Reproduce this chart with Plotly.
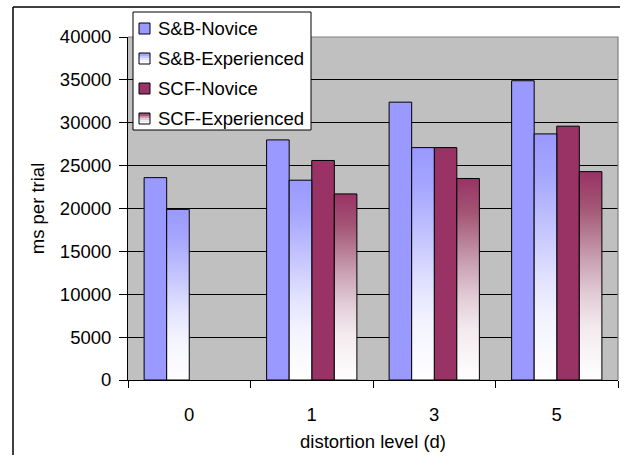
import plotly.graph_objects as go

# Distortion levels (categories) and mean response times in ms per trial
levels = ["0", "1", "3", "5"]
sb_novice = [23600, 28000, 32400, 34900]
sb_experienced = [19900, 23300, 27100, 28700]
scf_novice = [None, 25600, 27100, 29600]
scf_experienced = [None, 21700, 23500, 24300]

series_names = ["S&B-Novice", "S&B-Experienced", "SCF-Novice", "SCF-Experienced"]
y_ticks = [0, 5000, 10000, 15000, 20000, 25000, 30000, 35000, 40000]
y_tick_text = [str(v) for v in y_ticks]

SB_COLOR = "#9999ff"
SCF_COLOR = "#993366"
SB_FADE = [[0, "#ffffff"], [0.25, "#f3f3ff"], [0.41, "#e2e2ff"],
           [0.58, "#c9c9ff"], [0.83, "#a6a6ff"], [1, SB_COLOR]]
SCF_FADE = [[0, "#ffffff"], [0.25, "#f3eaee"], [0.41, "#e2ccd6"],
            [0.58, "#c9a0b2"], [0.83, "#a35574"], [1, SCF_COLOR]]

FONT = "Liberation Sans, Arial, sans-serif"
FS = 18.5

# plot-area geometry in pixels
W_FIG, H_FIG = 632, 468
M_L, M_R, M_T, M_B = 128, 14, 37, 88
PW = W_FIG - M_L - M_R
PH = H_FIG - M_T - M_B


def px(x):
    return (x - M_L) / PW


def py(y):
    return (H_FIG - M_B - y) / PH


# four bars per category, filling ~74% of each slot
group_frac = 0.737
bar_w = group_frac / 4
offsets = [-group_frac / 2 + k * bar_w for k in range(4)]

fig = go.Figure()

# solid bars
for k, (vals, color) in enumerate([(sb_novice, SB_COLOR), (scf_novice, SCF_COLOR)]):
    slot = 0 if k == 0 else 2
    fig.add_trace(go.Bar(
        x=list(range(len(levels))), y=vals, name=series_names[slot],
        offset=offsets[slot], width=bar_w,
        marker=dict(color=color, line=dict(color="black", width=1)),
        showlegend=False,
    ))

# gradient-filled bars, one closed polygon per bar
for slot, vals, scale in [(1, sb_experienced, SB_FADE), (3, scf_experienced, SCF_FADE)]:
    for i, v in enumerate(vals):
        if v is None:
            continue
        x0 = i + offsets[slot]
        x1 = x0 + bar_w
        fig.add_trace(go.Scatter(
            x=[x0, x0, x1, x1, x0], y=[0, v, v, 0, 0],
            mode="lines", fill="toself",
            fillgradient=dict(type="vertical", colorscale=scale),
            line=dict(color="black", width=1),
            name=series_names[slot], showlegend=False, hoverinfo="skip",
        ))

shapes = []
annotations = []

# outer frame of the chart: left and top edges
shapes.append(dict(type="line", xref="paper", yref="paper",
                   x0=px(13), x1=px(13), y0=py(455), y1=py(7),
                   line=dict(color="black", width=1.5), layer="below"))
shapes.append(dict(type="line", xref="paper", yref="paper",
                   x0=px(13), x1=px(620), y0=py(7), y1=py(7),
                   line=dict(color="black", width=1.5), layer="below"))
# grey top/right edges of the plot area
shapes.append(dict(type="path", xref="paper", yref="paper",
                   path="M 0 1 L 1 1 L 1 0", line=dict(color="#808080", width=1.2),
                   layer="above"))

# legend box
shapes.append(dict(type="rect", xref="paper", yref="paper",
                   x0=px(133), x1=px(311), y0=py(130), y1=py(12),
                   line=dict(color="black", width=1), fillcolor="white", layer="above"))

swatch_styles = [(SB_COLOR, None), (SB_COLOR, SB_FADE), (SCF_COLOR, None), (SCF_COLOR, SCF_FADE)]
for j, (name, (color, fade)) in enumerate(zip(series_names, swatch_styles)):
    cy = 28.5 + 30 * j
    sx0, sx1 = 139, 150
    sy0, sy1 = cy - 5.5, cy + 5.5
    if fade is None:
        shapes.append(dict(type="rect", xref="paper", yref="paper",
                           x0=px(sx0), x1=px(sx1), y0=py(sy1), y1=py(sy0),
                           fillcolor=color, line=dict(width=0), layer="above"))
    else:
        strips = [stop[1] for stop in reversed(fade)]
        h = (sy1 - sy0) / len(strips)
        for s, c in enumerate(strips):
            shapes.append(dict(type="rect", xref="paper", yref="paper",
                               x0=px(sx0), x1=px(sx1),
                               y0=py(sy0 + (s + 1) * h), y1=py(sy0 + s * h),
                               fillcolor=c, line=dict(width=0), layer="above"))
    shapes.append(dict(type="rect", xref="paper", yref="paper",
                       x0=px(sx0), x1=px(sx1), y0=py(sy1), y1=py(sy0),
                       fillcolor="rgba(0,0,0,0)", line=dict(color="black", width=1),
                       layer="above"))
    annotations.append(dict(xref="paper", yref="paper", x=px(156), y=py(cy),
                            xanchor="left", yanchor="middle", text=name,
                            showarrow=False, font=dict(family=FONT, size=FS, color="black")))

fig.update_layout(
    width=W_FIG, height=H_FIG,
    margin=dict(l=M_L, r=M_R, t=M_T, b=M_B, autoexpand=False),
    paper_bgcolor="white", plot_bgcolor="#c0c0c0",
    barmode="overlay",
    font=dict(family=FONT, size=FS, color="black"),
    showlegend=False,
    shapes=shapes, annotations=annotations,
    xaxis=dict(
        range=[-0.5, len(levels) - 0.5],
        tickmode="array", tickvals=list(range(len(levels))), ticktext=levels,
        ticks="", ticklabelstandoff=18,
        showgrid=False, zeroline=False,
        showline=True, linecolor="black", linewidth=1,
        minor=dict(tickmode="linear", tick0=-0.5, dtick=1, ticks="outside",
                   ticklen=7, tickcolor="black", tickwidth=1, showgrid=False),
        title=dict(text="distortion level (d)", standoff=10,
                   font=dict(family=FONT, size=FS)),
        fixedrange=True,
    ),
    yaxis=dict(
        range=[0, 40000], tickmode="array", tickvals=y_ticks, ticktext=y_tick_text,
        ticks="outside", ticklen=8, tickcolor="black", tickwidth=1,
        ticklabelstandoff=4,
        showgrid=True, gridcolor="black", gridwidth=1,
        zeroline=False, showline=True, linecolor="black", linewidth=1,
        title=dict(text="ms per trial", standoff=10,
                   font=dict(family=FONT, size=FS)),
        fixedrange=True,
    ),
)

fig.write_html("out.html")
